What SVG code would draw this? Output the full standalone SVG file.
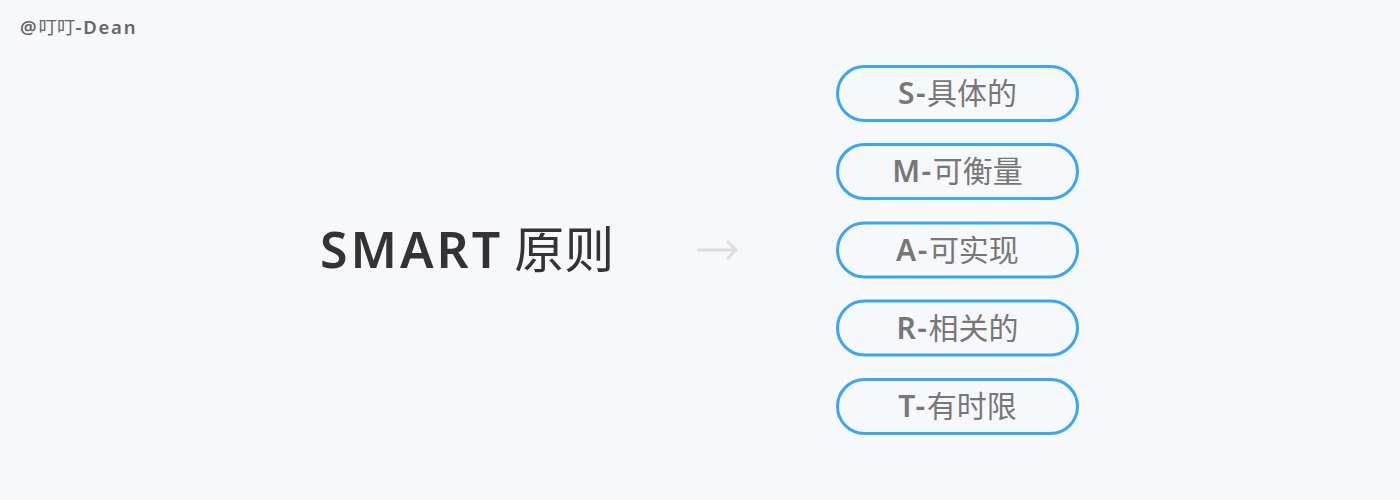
<svg xmlns="http://www.w3.org/2000/svg" width="1400" height="500" viewBox="0 0 1400 500">
<style>
.box{fill:#f7f8fc;stroke:#3aa6f5;stroke-width:3}
.bt{font-family:"Noto Sans","Noto Sans CJK SC",sans-serif;font-size:30px;font-weight:600;fill:#777;text-anchor:middle;letter-spacing:1.5px}
.cj{font-family:"Noto Sans CJK SC",sans-serif;font-weight:400;letter-spacing:0}
.title{font-family:"Noto Sans","Noto Sans CJK SC",sans-serif;font-size:50px;font-weight:600;fill:#333;letter-spacing:3px}
.wm{font-family:"Noto Sans","Noto Sans CJK SC",sans-serif;font-size:18.5px;font-weight:600;fill:#666;letter-spacing:1.8px}
</style>
<rect width="1400" height="500" fill="#f7f8fc"/>
<text class="wm" x="20" y="34">@<tspan class="cj">叮叮</tspan>-Dean</text>
<g id="title"><text class="title" x="320" y="268">SMART <tspan class="cj" dx="-5">原则</tspan></text></g>
<g id="connectors" fill="none" stroke="#dcdcdc" stroke-width="3" stroke-linecap="round">
<path d="M699 250 H736"/>
<path d="M728 242 L736 250 L728 258"/>
</g>
<g id="s"><rect class="box" x="837.5" y="66.5" width="240" height="54" rx="27"/><text class="bt" x="957.5" y="104">S-<tspan class="cj">具体的</tspan></text></g>
<g id="m"><rect class="box" x="837.5" y="144.5" width="240" height="54" rx="27"/><text class="bt" x="957.5" y="182">M-<tspan class="cj">可衡量</tspan></text></g>
<g id="a"><rect class="box" x="837.5" y="223" width="240" height="54" rx="27"/><text class="bt" x="957.5" y="260.5">A-<tspan class="cj">可实现</tspan></text></g>
<g id="r"><rect class="box" x="837.5" y="301" width="240" height="54" rx="27"/><text class="bt" x="957.5" y="338.5">R-<tspan class="cj">相关的</tspan></text></g>
<g id="t"><rect class="box" x="837.5" y="379.5" width="240" height="54" rx="27"/><text class="bt" x="957.5" y="417">T-<tspan class="cj">有时限</tspan></text></g>
</svg>
